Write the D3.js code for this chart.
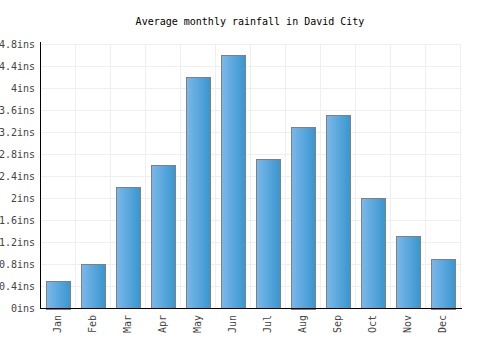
<!DOCTYPE html>
<html>
<head>
<meta charset="utf-8">
<script src="https://cdn.jsdelivr.net/npm/d3@7"></script>
<style>
  body { margin: 0; background: #fff; }
  text { font-family: 'DejaVu Sans Mono', monospace; }
</style>
</head>
<body>
<div id="chart"></div>
<script>
(function () {
  'use strict'

  // Data
  var months = ['Jan', 'Feb', 'Mar', 'Apr', 'May', 'Jun', 'Jul', 'Aug', 'Sep', 'Oct', 'Nov', 'Dec']
  var rainfall = [0.5, 0.8, 2.2, 2.6, 4.2, 4.6, 2.7, 3.3, 3.5, 2.0, 1.3, 0.9]
  var yTicks = [0, 0.4, 0.8, 1.2, 1.6, 2, 2.4, 2.8, 3.2, 3.6, 4, 4.4, 4.8]
  var title = 'Average monthly rainfall in David City'

  // Dimensions
  var w = 500
  var h = 350
  var left = 40
  var right = 460
  var top = 44
  var bottom = 308

  var svg = d3.select('#chart').append('svg')
    .attr('width', w)
    .attr('height', h)

  var defs = svg.append('defs')
  var grad = defs.append('linearGradient')
    .attr('id', 'barGrad')
    .attr('x1', '0%').attr('x2', '100%')
    .attr('y1', '0%').attr('y2', '0%')
  grad.append('stop').attr('offset', '0%').attr('stop-color', '#7bb8ea')
  grad.append('stop').attr('offset', '100%').attr('stop-color', '#3896cf')

  var x = d3.scaleBand().domain(months).range([left, right]).paddingInner(0.32).paddingOuter(0.16)
  var xb = d3.scaleBand().domain(months).range([left, right])
  var y = d3.scaleLinear().domain([0, 4.8]).range([bottom, top])

  // Grid
  var grid = svg.append('g').attr('class', 'grid')
  grid.selectAll('line.h').data(yTicks).enter().append('line')
    .attr('x1', left).attr('x2', right + 2)
    .attr('y1', function (d) { return Math.round(y(d)) + 0.5 })
    .attr('y2', function (d) { return Math.round(y(d)) + 0.5 })
    .attr('stroke', '#efefef')
  grid.selectAll('line.v').data(months.concat(['end'])).enter().append('line')
    .attr('x1', function (d, i) { return Math.round(left + i * xb.step()) + 0.5 })
    .attr('x2', function (d, i) { return Math.round(left + i * xb.step()) + 0.5 })
    .attr('y1', top).attr('y2', bottom)
    .attr('stroke', '#efefef')

  // Title
  svg.append('text')
    .attr('x', 250).attr('y', 25)
    .attr('text-anchor', 'middle')
    .attr('font-size', 10)
    .attr('fill', '#000')
    .text(title)

  // Bars
  svg.append('g').selectAll('rect').data(rainfall).enter().append('rect')
    .attr('x', function (d, i) { return Math.round(x(months[i])) + 0.5 })
    .attr('y', function (d) { return Math.round(y(d)) + 0.5 })
    .attr('width', Math.round(x.bandwidth()))
    .attr('height', function (d) { return Math.round(bottom - y(d)) })
    .attr('fill', 'url(#barGrad)')
    .attr('stroke', '#808080')
    .attr('stroke-width', 1)

  // Axes
  var yAxis = d3.axisLeft(y).tickValues(yTicks).tickSize(0).tickPadding(5)
    .tickFormat(function (d) { return d3.format('~g')(d) + 'ins' })
  var yg = svg.append('g').attr('transform', 'translate(' + left + ',0)').call(yAxis)
  yg.select('.domain').remove()
  yg.selectAll('text').attr('font-size', 10).attr('fill', '#444')
    .attr('font-family', "'DejaVu Sans Mono', monospace")

  var xAxis = d3.axisBottom(xb).tickSize(0).tickPadding(6)
  var xg = svg.append('g').attr('transform', 'translate(0,' + bottom + ')').call(xAxis)
  xg.select('.domain').remove()
  xg.selectAll('text')
    .attr('font-size', 10).attr('fill', '#444')
    .attr('font-family', "'DejaVu Sans Mono', monospace")
    .attr('transform', 'rotate(-90)')
    .attr('text-anchor', 'end')
    .attr('dy', '0.32em')
    .attr('x', -7).attr('y', 0)

  svg.append('line')
    .attr('x1', left + 0.5).attr('x2', left + 0.5)
    .attr('y1', top - 2).attr('y2', bottom + 1)
    .attr('stroke', '#000')
  svg.append('line')
    .attr('x1', left).attr('x2', right + 2)
    .attr('y1', bottom + 0.5).attr('y2', bottom + 0.5)
    .attr('stroke', '#000')
}())
</script>
</body>
</html>
